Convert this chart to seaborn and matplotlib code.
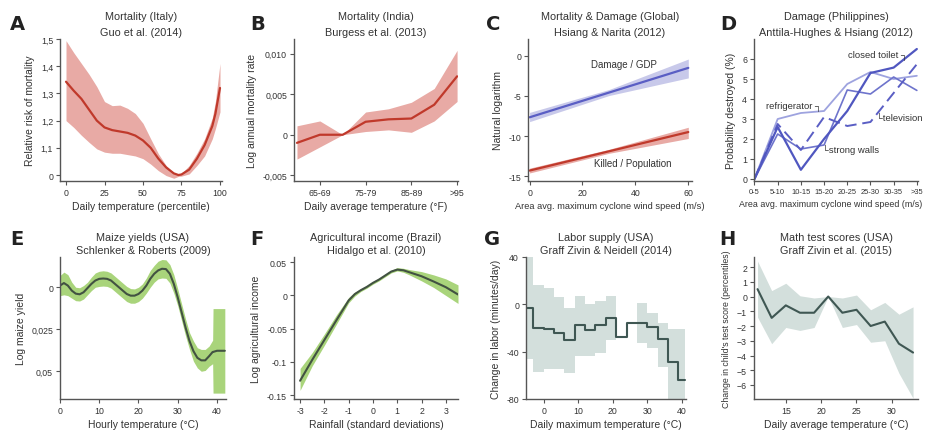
import numpy as np
import pandas as pd
import matplotlib
matplotlib.use("Agg")
import matplotlib.pyplot as plt
import seaborn as sns
from matplotlib import font_manager

# ---------------- data ----------------
# A: Mortality (Italy)
a_x = [0, 5, 10, 15, 20, 25, 30, 35, 40, 45, 50, 55, 60, 65, 70, 73, 75, 80, 85, 90, 95, 97, 100]
a_y = [1.343, 1.31, 1.28, 1.24, 1.20, 1.175, 1.165, 1.16, 1.155, 1.145, 1.127, 1.10, 1.06, 1.028, 1.006, 1.0, 1.002, 1.02, 1.06, 1.11, 1.18, 1.225, 1.32]
a_lo = [1.20, 1.175, 1.146, 1.12, 1.096, 1.084, 1.08, 1.08, 1.075, 1.07, 1.06, 1.04, 1.016, 0.998, 0.988, 0.995, 0.996, 1.004, 1.035, 1.07, 1.133, 1.17, 1.232]
a_hi = [1.494, 1.45, 1.41, 1.37, 1.325, 1.27, 1.255, 1.257, 1.245, 1.226, 1.19, 1.133, 1.078, 1.035, 1.007, 1.0, 1.006, 1.035, 1.08, 1.133, 1.21, 1.27, 1.41]

# B: Mortality (India)
b_cats = ["<65", "65-69", "70-74", "75-79", "80-84", "85-89", "90-94", ">95"]
b_y = [-0.001, 0.0, 0.0, 0.0016, 0.0019, 0.002, 0.0037, 0.0072]
b_lo = [-0.003, -0.0015, 0.0, 0.0004, 0.0006, 0.0003, 0.0017, 0.0041]
b_hi = [0.0011, 0.0017, 0.0, 0.0028, 0.0032, 0.004, 0.0057, 0.0104]
b_ticklabels = ["65-69", "75-79", "85-89", ">95"]

# C: Mortality & Damage (Global)
c_x = [0, 30, 60]
c_dmg = [-7.66, -4.58, -1.5]
c_dmg_lo = [-8.2, -4.95, -2.75]
c_dmg_hi = [-7.05, -4.2, -0.4]
c_kill = [-14.3, -11.9, -9.5]
c_kill_lo = [-14.6, -12.15, -10.3]
c_kill_hi = [-14.0, -11.65, -8.9]

# D: Damage (Philippines)
d_cats = ["0-5", "5-10", "10-15", "15-20", "20-25", "25-30", "30-35", ">35"]
d_toilet = [0, 2.6, 0.46, 2.0, 3.4, 5.3, 5.57, 6.5]
d_fridge = [0, 3.0, 3.3, 3.4, 4.75, 5.35, 5.0, 5.16]
d_tv = [0, 2.75, 1.45, 3.1, 2.65, 2.85, 4.3, 5.74]
d_walls = [0, 2.25, 1.5, 1.7, 4.45, 4.25, 5.1, 4.43]

# E: Maize yields (USA)
e_x = list(range(0, 39)) + [38.9, 39, 40, 41, 42]
e_y = [0.001, 0.0025, 0.001, -0.002, -0.0038, -0.0042, -0.003, -0.0005, 0.002, 0.004, 0.005,
       0.0052, 0.005, 0.004, 0.002, 0.0, -0.002, -0.004, -0.005, -0.005, -0.004, -0.002, 0.001,
       0.005, 0.008, 0.010, 0.011, 0.0108, 0.008, 0.002, -0.006, -0.015, -0.024, -0.032, -0.038,
       -0.042, -0.0435, -0.0435, -0.041, -0.0385, -0.0385, -0.0378, -0.0378, -0.0378]
e_lo = [-0.005, -0.0045, -0.005, -0.0065, -0.008, -0.0082, -0.007, -0.0045, -0.002, 0.0, 0.0005,
        0.0007, 0.0005, -0.0005, -0.0025, -0.0045, -0.0065, -0.0085, -0.0095, -0.0095, -0.0085,
        -0.0065, -0.0035, 0.0, 0.003, 0.005, 0.0055, 0.0053, 0.0025, -0.0035, -0.011, -0.02,
        -0.029, -0.037, -0.044, -0.048, -0.05, -0.0495, -0.047, -0.0455, -0.063, -0.063, -0.063, -0.063]
e_hi = [0.007, 0.009, 0.0075, 0.003, 0.0, -0.0003, 0.001, 0.003, 0.006, 0.0085, 0.0095,
        0.0098, 0.0095, 0.0085, 0.0065, 0.0045, 0.0025, 0.0005, -0.0008, -0.001, 0.0,
        0.002, 0.0055, 0.01, 0.013, 0.0155, 0.0165, 0.0163, 0.0135, 0.0075, -0.001, -0.01,
        -0.019, -0.027, -0.032, -0.036, -0.037, -0.037, -0.035, -0.0315, -0.0127, -0.0127, -0.0127, -0.0127]

# F: Agricultural income (Brazil)
f_x = [-3, -2.5, -2, -1.5, -1, -0.75, -0.5, -0.25, 0, 0.25, 0.5, 0.75, 1, 1.25, 1.5, 2, 2.5, 3, 3.5]
f_y = [-0.1285, -0.097, -0.067, -0.037, -0.0075, 0.002, 0.008, 0.013, 0.019, 0.024, 0.030, 0.036, 0.039, 0.038, 0.035, 0.029, 0.021, 0.0125, 0.0015]
f_lo = [-0.143, -0.106, -0.075, -0.043, -0.011, -0.001, 0.006, 0.011, 0.017, 0.022, 0.028, 0.034, 0.037, 0.035, 0.031, 0.022, 0.012, 0.0, -0.012]
f_hi = [-0.11, -0.086, -0.058, -0.029, -0.003, 0.005, 0.010, 0.015, 0.021, 0.026, 0.032, 0.038, 0.042, 0.041, 0.039, 0.036, 0.031, 0.025, 0.016]

# G: Labor supply (USA) -- step bins
g_edges = [-5.4, -3, 0, 3, 6, 9, 12, 15, 18, 21, 24, 27, 30, 33, 36, 39, 41]
g_y = [-2.9, -20.3, -21.2, -24.0, -30.4, -17.4, -21.7, -17.7, -11.3, -27.8, -15.7, -15.7, -18.8, -29.6, -48.7, -64.0]
g_lo = [-46.4, -57.4, -55.0, -55.0, -58.0, -43.5, -43.5, -41.4, -29.9, -44.3, np.nan, -32.8, -37.0, -53.0, -85.0, -85.0]
g_hi = [45.0, 16.5, 13.6, 6.4, -2.9, 7.2, 0.0, 2.9, 7.2, -11.0, np.nan, 1.4, -7.2, -15.4, -20.6, -20.6]

# H: Math test scores (USA)
h_x = [11, 13, 15, 17, 19, 21, 23, 25, 27, 29, 31, 33]
h_y = [0.5, -1.45, -0.6, -1.1, -1.1, 0.0, -1.1, -0.9, -2.0, -1.7, -3.2, -3.8]
h_lo = [-1.4, -3.2, -2.1, -2.3, -2.1, 0.0, -2.1, -1.9, -3.1, -3.0, -5.2, -6.9]
h_hi = [2.4, 0.4, 0.9, 0.05, -0.1, 0.0, -0.1, 0.1, -0.9, -0.4, -1.2, -0.7]

# ---------------- style ----------------
sns.set_style("ticks")
names = {f.name for f in font_manager.fontManager.ttflist}
fam = ["Liberation Sans Narrow"] if "Liberation Sans Narrow" in names else []
plt.rcParams["font.family"] = fam + ["Liberation Sans", "DejaVu Sans"]

TXT = "#333333"
SP = "#555555"
RED, RED_F = "#c0392b", "#e8aaa5"
BLU, BLU_F = "#5a5ec4", "#c8c9ea"
GRN_L, GRN_F = "#425242", "#a9d47b"
GRY_L, GRY_F = "#3f5753", "#d3dfdc"

fig = plt.figure(figsize=(9.28, 4.31), dpi=100)


def add_ax(l, t, r, b):
    return fig.add_axes([l / 928, 1 - b / 431, (r - l) / 928, (b - t) / 431])


def style(ax, title, xlabel, ylabel, row, ylfs=7.5, tfs=6.3, xlfs=7.5):
    for s in ["top", "right"]:
        ax.spines[s].set_visible(False)
    for s in ["left", "bottom"]:
        ax.spines[s].set_color(SP)
        ax.spines[s].set_linewidth(1.0)
    ax.tick_params(direction="out", length=3, width=0.8, color=SP, labelsize=tfs,
                   labelcolor=TXT, pad=2)
    ax.set_title(title, fontsize=7.8, color=TXT, pad=3, linespacing=1.7 if row == 0 else 1.35)
    ax.set_xlabel(xlabel, fontsize=xlfs, color=TXT, labelpad=3)
    ax.set_ylabel(ylabel, fontsize=ylfs, color=TXT, labelpad=4)


cols = [(60, 222), (294, 458), (528, 692), (754, 918)]
rows = [(40, 182), (258, 400)]

# ---- A ----
ax = add_ax(cols[0][0], rows[0][0], cols[0][1], rows[0][1])
ax.fill_between(a_x, a_lo, a_hi, color=RED_F, lw=0)
sns.lineplot(x=a_x, y=a_y, ax=ax, color=RED, lw=1.6)
ax.set_xlim(-3.9, 101.3)
ax.set_ylim(0.978, 1.5)
ax.set_xticks([0, 25, 50, 75, 100])
ax.set_yticks([1.0, 1.1, 1.2, 1.3, 1.4, 1.5])
ax.set_yticklabels(["0", "1,1", "1,2", "1,3", "1,4", "1,5"])
style(ax, "Mortality (Italy)\nGuo et al. (2014)", "Daily temperature (percentile)",
      "Relative risk of mortality", 0)

# ---- B ----
ax = add_ax(cols[1][0], rows[0][0], cols[1][1], rows[0][1])
bi = np.arange(len(b_cats))
ax.fill_between(bi, b_lo, b_hi, color=RED_F, lw=0)
sns.lineplot(x=bi, y=b_y, ax=ax, color=RED, lw=1.6)
ax.set_xlim(-0.13, 7.04)
ax.set_ylim(-0.0057, 0.0118)
ax.set_xticks([b_cats.index(c) for c in b_ticklabels])
ax.set_xticklabels(b_ticklabels)
ax.set_yticks([-0.005, 0, 0.005, 0.010])
ax.set_yticklabels(["-0,005", "0", "0,005", "0,010"])
style(ax, "Mortality (India)\nBurgess et al. (2013)", "Daily average temperature (°F)",
      "Log annual mortality rate", 0)

# ---- C ----
ax = add_ax(cols[2][0], rows[0][0], cols[2][1], rows[0][1])
ax.fill_between(c_x, c_dmg_lo, c_dmg_hi, color=BLU_F, lw=0)
ax.fill_between(c_x, c_kill_lo, c_kill_hi, color=RED_F, lw=0)
sns.lineplot(x=c_x, y=c_dmg, ax=ax, color=BLU, lw=1.6)
sns.lineplot(x=c_x, y=c_kill, ax=ax, color=RED, lw=1.6)
ax.text(35.7, -1.0, "Damage / GDP", fontsize=7.0, color=TXT, ha="center", va="center")
ax.text(38.9, -13.3, "Killed / Population", fontsize=7.0, color=TXT, ha="center", va="center")
ax.set_xlim(-0.6, 61.4)
ax.set_ylim(-15.6, 2.1)
ax.set_xticks([0, 20, 40, 60])
ax.set_yticks([-15, -10, -5, 0])
ax.set_yticklabels(["-15", "-10", "-5", "0"])
style(ax, "Mortality & Damage (Global)\nHsiang & Narita (2012)",
      "Area avg. maximum cyclone wind speed (m/s)", "Natural logarithm", 0, xlfs=6.7)

# ---- D ----
ax = add_ax(cols[3][0], rows[0][0], cols[3][1], rows[0][1])
di = np.arange(len(d_cats))
sns.lineplot(x=di, y=d_fridge, ax=ax, color="#9ea3df", lw=1.3)
sns.lineplot(x=di, y=d_walls, ax=ax, color="#6e74cc", lw=1.2)
sns.lineplot(x=di, y=d_tv, ax=ax, color="#5a5ec4", lw=1.4, linestyle=(0, (6, 3)))
sns.lineplot(x=di, y=d_toilet, ax=ax, color="#5057c0", lw=1.6)
ax.text(5.3, 6.25, "closed toilet ┐", fontsize=6.8, color=TXT, ha="center", va="center")
ax.text(1.7, 3.7, "refrigerator ┐", fontsize=6.8, color=TXT, ha="center", va="center")
ax.text(6.25, 3.05, "└television", fontsize=6.8, color=TXT, ha="center", va="center")
ax.text(4.15, 1.5, "└strong walls", fontsize=6.8, color=TXT, ha="center", va="center")
ax.set_xlim(-0.02, 7.05)
ax.set_ylim(-0.1, 7.0)
ax.set_xticks(di)
ax.set_xticklabels(d_cats)
ax.set_yticks(range(0, 7))
style(ax, "Damage (Philippines)\nAnttila-Hughes & Hsiang (2012)",
      "Area avg. maximum cyclone wind speed (m/s)", "Probability destroyed (%)", 0,
      tfs=5.4, xlfs=6.4)
ax.xaxis.label.set_x(0.47)
ax.tick_params(axis="y", labelsize=6.3)

# ---- E ----
ax = add_ax(cols[0][0], rows[1][0], 226, rows[1][1])
ax.fill_between(e_x, e_lo, e_hi, color=GRN_F, lw=0)
sns.lineplot(x=e_x, y=e_y, ax=ax, color=GRN_L, lw=1.5)
ax.set_xlim(0, 42.3)
ax.set_ylim(-0.0665, 0.018)
ax.set_xticks([0, 10, 20, 30, 40])
ax.set_yticks([-0.05, -0.025, 0])
ax.set_yticklabels(["0,05", "0,025", "0"])
style(ax, "Maize yields (USA)\nSchlenker & Roberts (2009)", "Hourly temperature (°C)",
      "Log maize yield", 1)

# ---- F ----
ax = add_ax(cols[1][0], rows[1][0], cols[1][1], rows[1][1])
ax.fill_between(f_x, f_lo, f_hi, color=GRN_F, lw=0)
sns.lineplot(x=f_x, y=f_y, ax=ax, color=GRN_L, lw=1.5)
ax.set_xlim(-3.25, 3.5)
ax.set_ylim(-0.156, 0.058)
ax.set_xticks([-3, -2, -1, 0, 1, 2, 3])
ax.set_xticklabels(["-3", "-2", "-1", "0", "1", "2", "3"])
ax.set_yticks([-0.15, -0.1, -0.05, 0, 0.05])
ax.set_yticklabels(["-0.15", "-0.1", "-0.05", "0", "0.05"])
style(ax, "Agricultural income (Brazil)\nHidalgo et al. (2010)", "Rainfall (standard deviations)",
      "Log agricultural income", 1)

# ---- G ----
ax = add_ax(526, rows[1][0], 686, rows[1][1])
gx = g_edges
gy = g_y + [g_y[-1]]
glo = g_lo + [g_lo[-1]]
ghi = g_hi + [g_hi[-1]]
ax.fill_between(gx, glo, ghi, step="post", color=GRY_F, lw=0)
sns.lineplot(x=gx, y=gy, ax=ax, color=GRY_L, lw=1.5, drawstyle="steps-post")
ax.set_xlim(-5.1, 41.2)
ax.set_ylim(-80, 40)
ax.set_xticks([0, 10, 20, 30, 40])
ax.set_yticks([-80, -40, 0, 40])
ax.set_yticklabels(["-80", "-40", "0", "40"])
style(ax, "Labor supply (USA)\nGraff Zivin & Neidell (2014)", "Daily maximum temperature (°C)",
      "Change in labor (minutes/day)", 1)

# ---- H ----
ax = add_ax(cols[3][0], rows[1][0], cols[3][1], rows[1][1])
ax.fill_between(h_x, h_lo, h_hi, color=GRY_F, lw=0)
sns.lineplot(x=h_x, y=h_y, ax=ax, color=GRY_L, lw=1.5)
ax.set_xlim(10.5, 33.7)
ax.set_ylim(-6.95, 2.68)
ax.set_xticks([15, 20, 25, 30])
ax.set_yticks(range(-6, 3))
style(ax, "Math test scores (USA)\nGraff Zivin et al. (2015)", "Daily average temperature (°C)",
      "Change in child's test score (percentiles)", 1, ylfs=6.3)

# panel letters
for letter, (px, py) in zip("ABCDEFGH", [(17, 25), (258, 25), (493, 25), (728, 25),
                                         (17, 240), (257, 240), (492, 240), (727, 240)]):
    fig.text(px / 928, 1 - py / 431, letter, fontsize=14, fontweight="bold", color="#222222",
             ha="center", va="center", family=["DejaVu Sans"])

fig.savefig("out.png", dpi=100)
